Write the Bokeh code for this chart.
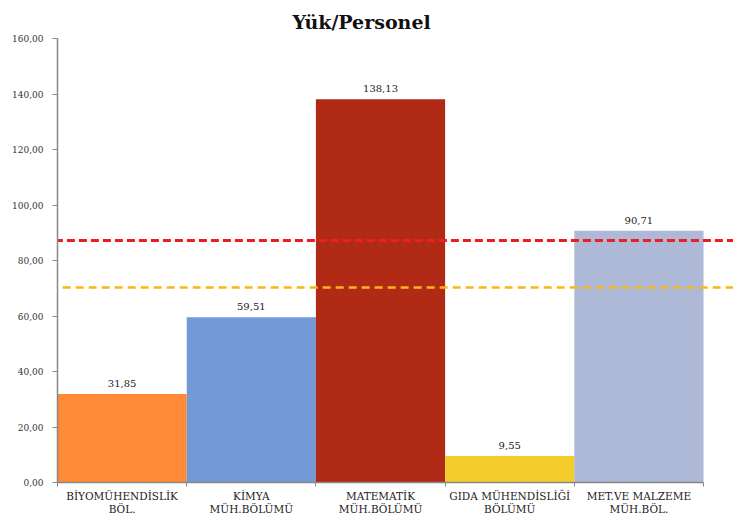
from bokeh.plotting import figure
from bokeh.models import ColumnDataSource, FixedTicker, Range1d, LinearAxis, Title
from bokeh.core.properties import value
from bokeh.embed import file_html
from bokeh.resources import INLINE

# Data
categories = ["BİYOMÜHENDİSLİK\nBÖL.", "KİMYA\nMÜH.BÖLÜMÜ", "MATEMATİK\nMÜH.BÖLÜMÜ",
              "GIDA MÜHENDİSLİĞİ\nBÖLÜMÜ", "MET.VE MALZEME\nMÜH.BÖL."]
values = [31.85, 59.51, 138.13, 9.55, 90.71]
labels = ["31,85", "59,51", "138,13", "9,55", "90,71"]
colors = ["#FF8B38", "#7399D7", "#B12A16", "#F4CD2A", "#AEB9D8"]
ref_red = 87.2
ref_yellow = 70.3
y_ticks = [0, 20, 40, 60, 80, 100, 120, 140, 160]

FONT = "DejaVu Serif"
n = len(values)
xs = [i + 0.5 for i in range(n)]

src = ColumnDataSource(dict(x=xs, top=values, color=colors, label=labels))

p = figure(width=733, height=520, output_backend="svg", toolbar_location=None,
           x_range=Range1d(0, 5.232), y_range=Range1d(0, 160),
           min_border_left=57, min_border_right=0, min_border_top=38, min_border_bottom=38,
           x_axis_type=None, y_axis_type=None, title=None)
p.outline_line_color = None
p.grid.visible = False
p.background_fill_color = "white"
p.border_fill_color = "white"

# Chart title
title = Title(text="Yük/Personel", text_font=FONT, text_font_size="19px",
              text_font_style="bold", align="left", offset=235,
              text_color="#111111", standoff=12)
p.add_layout(title, "above")

# Bars
p.vbar(x="x", top="top", width=1.0, bottom=0, color="color", line_color=None, source=src)

# Value labels
p.text(x="x", y="top", text="label", source=src, text_align="center",
       text_baseline="bottom", y_offset=-7, text_font=value(FONT),
       text_font_size="10px", text_color="#222222")

# Reference lines
p.segment(x0=[-0.02], y0=[ref_red], x1=[5.3], y1=[ref_red],
          line_color="#EE1C25", line_width=3, line_dash="8 4")
p.segment(x0=[0.04], y0=[ref_yellow], x1=[5.3], y1=[ref_yellow],
          line_color="#F9B617", line_width=2.5, line_dash="8 5")

# Y axis
yax = LinearAxis(ticker=FixedTicker(ticks=y_ticks, minor_ticks=[]))
yax.major_label_overrides = {t: f"{t:.2f}".replace(".", ",") for t in y_ticks}
yax.axis_line_color = "#888888"
yax.axis_line_width = 1.5
yax.major_tick_line_color = "#888888"
yax.major_tick_in = 0
yax.major_tick_out = 5
yax.major_label_standoff = 9
yax.major_label_text_font = FONT
yax.major_label_text_font_size = "9px"
yax.major_label_text_color = "#333333"
p.add_layout(yax, "left")

# X axis: labels at category centres, ticks at boundaries
xax = LinearAxis(ticker=FixedTicker(ticks=xs, minor_ticks=list(range(n + 1))))
xax.bounds = (0, n)
xax.major_label_overrides = {x: c for x, c in zip(xs, categories)}
xax.axis_line_color = "#888888"
xax.axis_line_width = 1.5
xax.major_tick_in = 0
xax.major_tick_out = 0
xax.minor_tick_in = 0
xax.minor_tick_out = 4
xax.minor_tick_line_color = "#888888"
xax.major_label_standoff = 3
xax.major_label_text_font = FONT
xax.major_label_text_font_size = "10.5px"
xax.major_label_text_color = "#222222"
xax.major_label_text_line_height = 1.15
p.add_layout(xax, "below")

open("out.html", "w").write(file_html(p, INLINE))
